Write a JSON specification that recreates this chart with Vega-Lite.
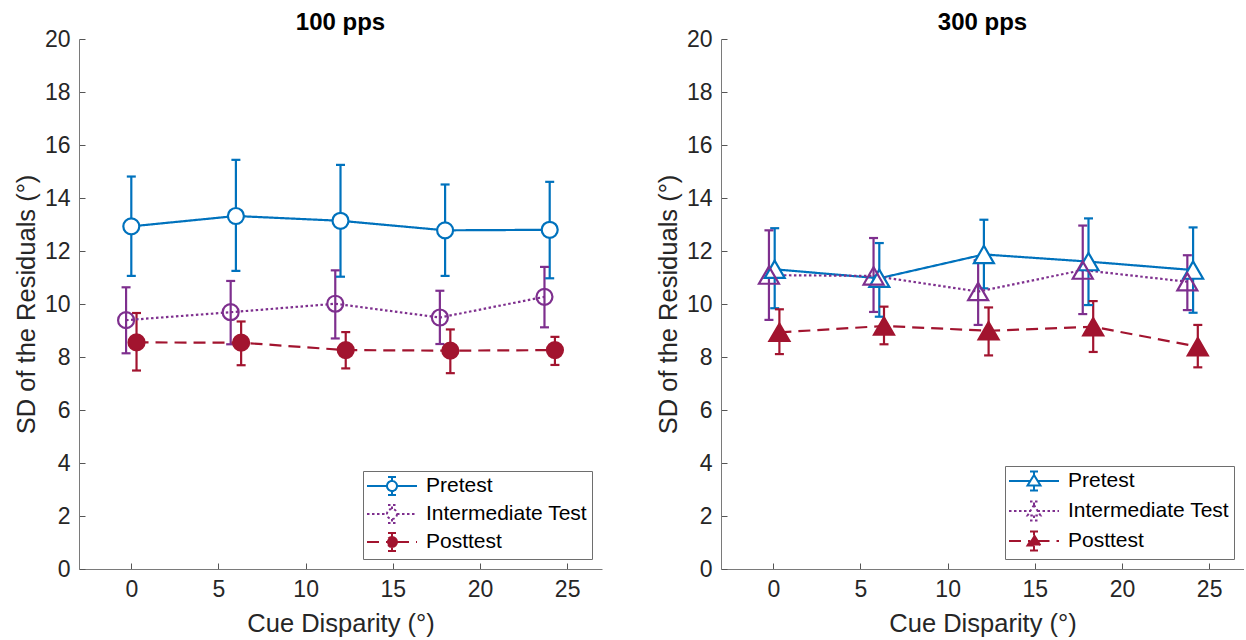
{
  "$schema": "https://vega.github.io/schema/vega-lite/v6.json",
  "padding": {"left": 14, "top": 10, "right": 0, "bottom": 0},
  "background": "white",
  "datasets": {
    "p100": [
      {"series": "Pretest", "x": 0, "y": 12.93, "lo": 11.06, "hi": 14.81},
      {"series": "Pretest", "x": 6, "y": 13.32, "lo": 11.25, "hi": 15.44},
      {"series": "Pretest", "x": 12, "y": 13.14, "lo": 11.03, "hi": 15.25},
      {"series": "Pretest", "x": 18, "y": 12.78, "lo": 11.06, "hi": 14.51},
      {"series": "Pretest", "x": 24, "y": 12.80, "lo": 10.97, "hi": 14.61},
      {"series": "Intermediate Test", "x": -0.3, "y": 9.39, "lo": 8.14, "hi": 10.63},
      {"series": "Intermediate Test", "x": 5.7, "y": 9.69, "lo": 8.48, "hi": 10.87},
      {"series": "Intermediate Test", "x": 11.7, "y": 10.01, "lo": 8.70, "hi": 11.27},
      {"series": "Intermediate Test", "x": 17.7, "y": 9.49, "lo": 8.49, "hi": 10.50},
      {"series": "Intermediate Test", "x": 23.7, "y": 10.27, "lo": 9.12, "hi": 11.40},
      {"series": "Posttest", "x": 0.3, "y": 8.55, "lo": 7.49, "hi": 9.66},
      {"series": "Posttest", "x": 6.3, "y": 8.54, "lo": 7.69, "hi": 9.34},
      {"series": "Posttest", "x": 12.3, "y": 8.26, "lo": 7.57, "hi": 8.94},
      {"series": "Posttest", "x": 18.3, "y": 8.24, "lo": 7.39, "hi": 9.04},
      {"series": "Posttest", "x": 24.3, "y": 8.26, "lo": 7.70, "hi": 8.76}
    ],
    "p300": [
      {"series": "Pretest", "x": 0.08, "y": 11.31, "lo": 9.84, "hi": 12.86},
      {"series": "Pretest", "x": 6.08, "y": 10.97, "lo": 9.52, "hi": 12.30},
      {"series": "Pretest", "x": 12.08, "y": 11.87, "lo": 10.59, "hi": 13.18},
      {"series": "Pretest", "x": 18.08, "y": 11.60, "lo": 9.96, "hi": 13.23},
      {"series": "Pretest", "x": 24.08, "y": 11.28, "lo": 9.67, "hi": 12.89},
      {"series": "Intermediate Test", "x": -0.25, "y": 11.09, "lo": 9.40, "hi": 12.78},
      {"series": "Intermediate Test", "x": 5.75, "y": 11.06, "lo": 9.70, "hi": 12.49},
      {"series": "Intermediate Test", "x": 11.75, "y": 10.47, "lo": 9.21, "hi": 11.65},
      {"series": "Intermediate Test", "x": 17.75, "y": 11.28, "lo": 9.62, "hi": 12.96},
      {"series": "Intermediate Test", "x": 23.75, "y": 10.84, "lo": 9.77, "hi": 11.84},
      {"series": "Posttest", "x": 0.35, "y": 8.93, "lo": 8.11, "hi": 9.80},
      {"series": "Posttest", "x": 6.35, "y": 9.17, "lo": 8.48, "hi": 9.90},
      {"series": "Posttest", "x": 12.35, "y": 8.99, "lo": 8.06, "hi": 9.87},
      {"series": "Posttest", "x": 18.35, "y": 9.14, "lo": 8.19, "hi": 10.11},
      {"series": "Posttest", "x": 24.35, "y": 8.39, "lo": 7.61, "hi": 9.21}
    ]
  },
  "hconcat": [
    {
      "width": 523,
      "height": 530,
      "title": {"text": "100 pps"},
      "data": {"name": "p100"},
      "encoding": {
        "x": {"field": "x", "type": "quantitative", "scale": {"domain": [-3, 27], "nice": false, "zero": false}, "axis": {"title": "Cue Disparity (°)", "values": [0, 5, 10, 15, 20, 25]}},
        "stroke": {"field": "series", "type": "nominal", "title": "series",
          "scale": {"domain": ["Pretest", "Intermediate Test", "Posttest"], "range": ["#0072BD", "#7E2F8E", "#A2142F"]},
          "legend": {"title": null, "orient": "bottom-right", "offset": 10,
            "symbolType": "M-2.5,0H-0.5M0.5,0H2.5M0.5,0A0.5,0.5,0,1,1,-0.5,0A0.5,0.5,0,1,1,0.5,0M0,-0.5V-0.9M0,0.5V0.9M-0.4,-0.9H0.4M-0.4,0.9H0.4",
            "symbolSize": 400, "symbolOffset": 14, "labelOffset": 23}}
      },
      "layer": [
        {"mark": {"type": "rule", "strokeWidth": 2.2, "opacity": 1},
         "encoding": {"y": {"field": "lo", "type": "quantitative", "scale": {"domain": [0, 20], "nice": false}, "axis": {"title": "SD of the Residuals (°)", "values": [0, 2, 4, 6, 8, 10, 12, 14, 16, 18, 20]}}, "y2": {"field": "hi"}}},
        {"mark": {"type": "point", "shape": "stroke", "size": 81, "strokeWidth": 2.2, "opacity": 1},
         "encoding": {"y": {"field": "lo", "type": "quantitative"}}},
        {"mark": {"type": "point", "shape": "stroke", "size": 81, "strokeWidth": 2.2, "opacity": 1},
         "encoding": {"y": {"field": "hi", "type": "quantitative"}}},
        {"mark": {"type": "line", "strokeWidth": 2.2},
         "encoding": {"y": {"field": "y", "type": "quantitative"},
           "strokeDash": {"field": "series", "type": "nominal", "title": "series", "scale": {"domain": ["Pretest", "Intermediate Test", "Posttest"], "range": [[1, 0], [2.5, 2.5], [12, 7]]}}}},
        {"mark": {"type": "point", "shape": "circle", "size": 256, "strokeWidth": 2.2, "opacity": 1},
         "encoding": {"y": {"field": "y", "type": "quantitative"},
           "fill": {"field": "series", "type": "nominal", "title": "series", "scale": {"domain": ["Pretest", "Intermediate Test", "Posttest"], "range": ["#ffffff", "transparent", "#A2142F"]}}}}
      ]
    },
    {
      "width": 523,
      "height": 530,
      "title": {"text": "300 pps"},
      "data": {"name": "p300"},
      "encoding": {
        "x": {"field": "x", "type": "quantitative", "scale": {"domain": [-3, 27], "nice": false, "zero": false}, "axis": {"title": "Cue Disparity (°)", "values": [0, 5, 10, 15, 20, 25]}},
        "stroke": {"field": "series", "type": "nominal", "title": "series",
          "scale": {"domain": ["Pretest", "Intermediate Test", "Posttest"], "range": ["#0072BD", "#7E2F8E", "#A2142F"]},
          "legend": {"title": null, "orient": "bottom-right", "offset": 10,
            "symbolType": "M-2.5,0H-0.35M0.35,0H2.5M0,-0.6L0.65,0.45L-0.65,0.45ZM0,-0.6V-0.95M0,0.45V0.95M-0.4,-0.95H0.4M-0.4,0.95H0.4",
            "symbolSize": 400, "symbolOffset": 14, "labelOffset": 23}}
      },
      "layer": [
        {"mark": {"type": "rule", "strokeWidth": 2.2, "opacity": 1},
         "encoding": {"y": {"field": "lo", "type": "quantitative", "scale": {"domain": [0, 20], "nice": false}, "axis": {"title": "SD of the Residuals (°)", "values": [0, 2, 4, 6, 8, 10, 12, 14, 16, 18, 20]}}, "y2": {"field": "hi"}}},
        {"mark": {"type": "point", "shape": "stroke", "size": 81, "strokeWidth": 2.2, "opacity": 1},
         "encoding": {"y": {"field": "lo", "type": "quantitative"}}},
        {"mark": {"type": "point", "shape": "stroke", "size": 81, "strokeWidth": 2.2, "opacity": 1},
         "encoding": {"y": {"field": "hi", "type": "quantitative"}}},
        {"mark": {"type": "line", "strokeWidth": 2.2},
         "encoding": {"y": {"field": "y", "type": "quantitative"},
           "strokeDash": {"field": "series", "type": "nominal", "title": "series", "scale": {"domain": ["Pretest", "Intermediate Test", "Posttest"], "range": [[1, 0], [2.5, 2.5], [12, 7]]}}}},
        {"mark": {"type": "point", "shape": "triangle-up", "size": 400, "strokeWidth": 2.2, "opacity": 1},
         "encoding": {"y": {"field": "y", "type": "quantitative"},
           "fill": {"field": "series", "type": "nominal", "title": "series", "scale": {"domain": ["Pretest", "Intermediate Test", "Posttest"], "range": ["#ffffff", "transparent", "#A2142F"]}}}}
      ]
    }
  ],
  "spacing": 54,
  "resolve": {"scale": {"x": "independent", "y": "independent", "stroke": "independent", "fill": "independent", "strokeDash": "independent"}, "legend": {"stroke": "independent", "fill": "independent", "strokeDash": "independent"}},
  "config": {
    "view": {"stroke": null},
    "font": "Liberation Sans",
    "title": {"fontSize": 24, "fontWeight": "bold", "font": "Liberation Sans", "color": "#000000", "offset": -6.5},
    "axis": {"domainColor": "#7a7a7a", "tickColor": "#555555", "labelColor": "#262626", "titleColor": "#262626",
      "labelFont": "Liberation Sans", "titleFont": "Liberation Sans", "labelFontSize": 23, "titleFontSize": 25.5,
      "titleFontWeight": "normal", "grid": false, "tickSize": -6, "labelPadding": 15, "domainWidth": 1, "tickWidth": 1},
    "axisY": {"titlePadding": 5},
    "axisX": {"titlePadding": 10},
    "legend": {"labelFont": "Liberation Sans", "labelFontSize": 21, "labelColor": "#000000", "strokeColor": "#6e6e6e",
      "fillColor": "#ffffff", "padding": 4, "rowPadding": 2, "symbolStrokeWidth": 2, "symbolOpacity": 1, "labelLimit": 300}
  }
}
